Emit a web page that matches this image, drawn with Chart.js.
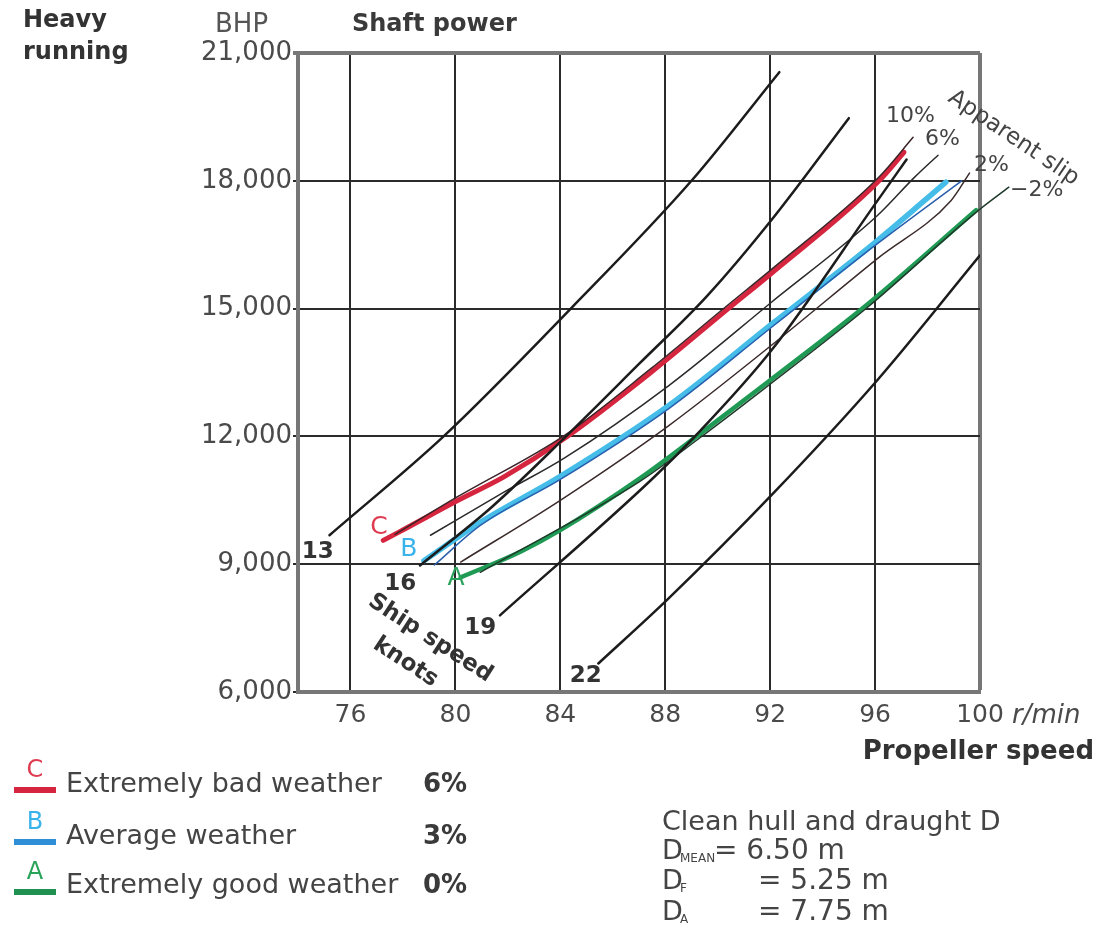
<!DOCTYPE html>
<html>
<head>
<meta charset="utf-8">
<script src="https://cdn.jsdelivr.net/npm/chart.js@4.4.1/dist/chart.umd.min.js"></script>
<style>
  html, body { margin: 0; padding: 0; background: #fff; }
  #wrap { width: 1097px; height: 931px; }
</style>
</head>
<body>
<div id="wrap"><canvas id="chart" width="1097" height="931"></canvas></div>
<script>
// axis ticks
const rpmTicks = [76, 80, 84, 88, 92, 96, 100];
const bhpTicks = [6000, 9000, 12000, 15000, 18000, 21000];

// ship speed lines, [r/min, BHP]
const speed13 = [[75.2, 9680], [79.55, 12000], [84.4, 15000], [89.0, 18000], [92.35, 20550]];
const speed16 = [[78.65, 8970], [81.4, 10350], [84.15, 11960], [87.0, 13700], [89.6, 15300], [92.05, 17080], [95.0, 19470]];
const speed19 = [[81.7, 7800], [87.45, 10970], [89.35, 12140], [92.05, 14020], [96.1, 17540], [97.2, 18500]];
const speed22 = [[85.45, 6670], [88.1, 8180], [92.05, 10620], [96.1, 13330], [100, 16250]];

// weather propeller curves
const weatherC = [[77.25, 9560], [77.9, 9770], [80.1, 10500], [81.85, 11050], [84.15, 11950], [87.45, 13500], [90.4, 15000], [92.05, 15830], [96.15, 18000], [97.1, 18670]];
const weatherB = [[78.8, 9080], [80.95, 9980], [84.0, 11060], [88.15, 12730], [92.15, 14680], [96.1, 16600], [98.7, 17970]];
const weatherBedge = [[79.2, 8980], [80.95, 9910], [84.0, 10990], [88.15, 12660], [92.15, 14610], [96.1, 16530], [99.3, 18000]];
const weatherA = [[80.2, 8690], [82.5, 9300], [84.0, 9800], [87.05, 11020], [89.35, 12070], [91.9, 13270], [95.75, 15120], [99.85, 17310]];

// apparent slip lines
const slip10 = [[77.7, 9700], [80.1, 10590], [84.15, 12020], [87.45, 13590], [90.4, 15090], [92.05, 15920], [96.15, 18090], [97.45, 19020]];
const slip6 = [[79.05, 9680], [81.85, 10690], [84.15, 11490], [88.15, 13200], [92.05, 15150], [96.1, 17190], [97.5, 18080], [98.4, 18600]];
const slip2 = [[80.2, 9050], [84.0, 10500], [88.15, 12260], [92.05, 14140], [96.1, 16180], [98.9, 17540], [99.6, 18180]];
const slipMinus2 = [[80.95, 8810], [87.05, 10950], [89.35, 11980], [91.9, 13180], [95.75, 15050], [99.85, 17260], [101.1, 17850]];

const FONT = "'DejaVu Sans', sans-serif";
const pts = a => a.map(([x, y]) => ({ x, y }));

function curve(data, color, width, extra) {
  return Object.assign({
    data: pts(data),
    borderColor: color,
    borderWidth: width,
    showLine: true,
    pointRadius: 0,
    fill: false,
    cubicInterpolationMode: 'monotone',
    borderCapStyle: 'round'
  }, extra || {});
}

function put(ctx, s, x, y, font, color, align, rot) {
  ctx.save();
  ctx.translate(x, y);
  if (rot) ctx.rotate(rot * Math.PI / 180);
  ctx.font = font;
  ctx.fillStyle = color;
  ctx.textAlign = align || 'left';
  ctx.textBaseline = 'middle';
  ctx.fillText(s, 0, 0);
  ctx.restore();
}

const textPlugin = {
  id: 'texts',
  afterDraw(chart) {
    const ctx = chart.ctx;
    const sx = chart.scales.x, sy = chart.scales.y;
    const at = (vx, vy) => [sx.getPixelForValue(vx), sy.getPixelForValue(vy)];
    const ink = '#333';

    // labels inside the plot
    put(ctx, 'C', ...at(76.75, 9870), '25px ' + FONT, '#de3b50');
    put(ctx, 'B', ...at(77.9, 9350), '25px ' + FONT, '#3ab2ea');
    put(ctx, 'A', ...at(79.7, 8670), '25px ' + FONT, '#2aa35a');
    put(ctx, '13', ...at(74.75, 9280), 'bold 23px ' + FONT, ink, 'center');
    put(ctx, '16', ...at(77.9, 8530), 'bold 23px ' + FONT, ink, 'center');
    put(ctx, '19', ...at(80.95, 7500), 'bold 23px ' + FONT, ink, 'center');
    put(ctx, '22', ...at(84.97, 6370), 'bold 23px ' + FONT, ink, 'center');
    put(ctx, 'Ship speed', ...at(79.04, 7260), 'bold 23px ' + FONT, ink, 'center', 33);
    put(ctx, 'knots', ...at(78.1, 6700), 'bold 23px ' + FONT, ink, 'center', 33);
    put(ctx, '10%', ...at(97.35, 19510), '22px ' + FONT, '#444', 'center');
    put(ctx, '6%', ...at(98.57, 18970), '22px ' + FONT, '#444', 'center');
    put(ctx, '2%', ...at(100.44, 18360), '22px ' + FONT, '#444', 'center');
    put(ctx, '\u22122%', ...at(102.16, 17770), '22px ' + FONT, '#444', 'center');
    put(ctx, 'Apparent slip', ...at(101.28, 19000), '23px ' + FONT, '#444', 'center', 34);

    // titles
    put(ctx, 'Heavy', 23, 21, 'bold 24px ' + FONT, ink);
    put(ctx, 'running', 23, 53, 'bold 24px ' + FONT, ink);
    put(ctx, 'BHP', 215, 25, '26px ' + FONT, '#555');
    put(ctx, 'Shaft power', 352, 25, 'bold 24px ' + FONT, '#3a3a3a');
    put(ctx, 'r/min', 1012, 716, 'italic 26px ' + FONT, '#4a4a4a');
    put(ctx, 'Propeller speed', 1094, 752, 'bold 26px ' + FONT, ink, 'right');

    // legend
    const rows = [
      ['C', '#de3b50', '#d6263f', 'Extremely bad weather', '6%', 785, 790],
      ['B', '#3ab2ea', '#2f8fd6', 'Average weather', '3%', 837, 842],
      ['A', '#2aa35a', '#1f9150', 'Extremely good weather', '0%', 886, 892]
    ];
    rows.forEach(([k, kc, bar, label, pct, ty, by]) => {
      ctx.fillStyle = bar;
      ctx.fillRect(14, by - 3, 42, 6);
      put(ctx, k, 35, by - 19, '24px ' + FONT, kc, 'center');
      put(ctx, label, 66, ty, '27px ' + FONT, '#444');
      put(ctx, pct, 423, ty, 'bold 26px ' + FONT, '#3a3a3a');
    });

    // draught note
    const note = '#444';
    put(ctx, 'Clean hull and draught D', 662, 823, '27px ' + FONT, note);
    [['MEAN', '= 6.50 m', 852, 714], ['F', '= 5.25 m', 882, 758], ['A', '= 7.75 m', 913, 758]].forEach(([sub, val, yy, vx]) => {
      put(ctx, 'D', 662, yy, '27px ' + FONT, note);
      put(ctx, sub, 680, yy + 7, '12px ' + FONT, note);
      put(ctx, val, vx, yy, '28px ' + FONT, note);
    });
  }
};

const edgeTick = v => v === 100 || v === 21000;

new Chart(document.getElementById('chart'), {
  type: 'scatter',
  data: {
    datasets: [
      curve(speed13, '#1c1c1c', 2.5),
      curve(speed16, '#1c1c1c', 2.5),
      curve(speed19, '#1c1c1c', 2.5),
      curve(speed22, '#1c1c1c', 2.5),
      curve(slip10, '#3a2326', 1.5, { clip: false }),
      curve(weatherC, '#d6263f', 5),
      curve(slip6, '#2a2a2a', 1.5, { clip: false }),
      curve(weatherBedge, '#2a5fae', 1.5, { clip: false }),
      curve(weatherB, '#45bde8', 5.5),
      curve(slip2, '#3b2a2a', 1.5, { clip: false }),
      curve(slipMinus2, '#1f3a2a', 1.5, { clip: false }),
      curve(weatherA, '#1f9a55', 4.5)
    ]
  },
  options: {
    responsive: false,
    animation: false,
    layout: { padding: { left: 178, right: 117, top: 53, bottom: 189 } },
    plugins: { legend: { display: false }, tooltip: { enabled: false } },
    scales: {
      x: {
        type: 'linear',
        min: 74,
        max: 100,
        afterBuildTicks: s => { s.ticks = rpmTicks.map(v => ({ value: v })); },
        afterFit: s => { s.height = 50; },
        ticks: {
          autoSkip: false,
          maxRotation: 0,
          padding: 8,
          color: '#4a4a4a',
          font: { family: FONT, size: 25 }
        },
        grid: {
          drawTicks: false,
          color: c => (c.tick && edgeTick(c.tick.value)) ? '#777' : '#2b2b2b',
          lineWidth: c => (c.tick && edgeTick(c.tick.value)) ? 4 : 2
        },
        border: { display: true, color: '#777', width: 4 }
      },
      y: {
        type: 'linear',
        min: 6000,
        max: 21000,
        afterBuildTicks: s => { s.ticks = bhpTicks.map(v => ({ value: v })); },
        afterFit: s => { s.width = 120; },
        ticks: {
          padding: 1,
          color: '#4a4a4a',
          font: { family: FONT, size: 26 },
          callback: v => v.toLocaleString('en-US')
        },
        grid: {
          tickLength: 5,
          color: c => (c.tick && edgeTick(c.tick.value)) ? '#777' : '#2b2b2b',
          lineWidth: c => (c.tick && edgeTick(c.tick.value)) ? 4 : 2
        },
        border: { display: true, color: '#777', width: 4 }
      }
    }
  },
  plugins: [textPlugin]
});
</script>
</body>
</html>
